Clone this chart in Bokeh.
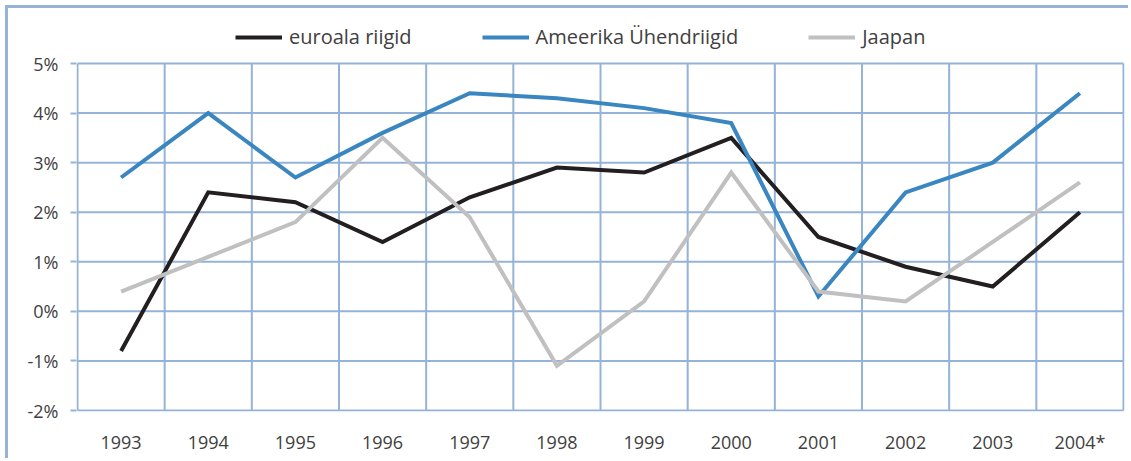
from bokeh.plotting import figure
from bokeh.layouts import column
from bokeh.models import FixedTicker, PrintfTickFormatter, Legend, LegendItem, Range1d
from bokeh.embed import file_html
from bokeh.resources import INLINE

years = ["1993", "1994", "1995", "1996", "1997", "1998", "1999", "2000", "2001", "2002", "2003", "2004*"]
euro = [-0.8, 2.4, 2.2, 1.4, 2.3, 2.9, 2.8, 3.5, 1.5, 0.9, 0.5, 2.0]
usa = [2.7, 4.0, 2.7, 3.6, 4.4, 4.3, 4.1, 3.8, 0.3, 2.4, 3.0, 4.4]
japan = [0.4, 1.1, 1.8, 3.5, 1.9, -1.1, 0.2, 2.8, 0.4, 0.2, 1.4, 2.6]
names = ["euroala riigid", "Ameerika Ühendriigid", "Jaapan"]
colors = ["#231f20", "#3a86c0", "#c0c0c0"]
yticks = [-2, -1, 0, 1, 2, 3, 4, 5]

GRID = "#95b3d7"
FONT = "Open Sans"
TXT = "#404040"

n = len(years)
xs = list(range(n))
ymin, ymax = yticks[0], yticks[-1]
px_per_unit = 347 / (ymax - ymin)
top_room = 45 / px_per_unit      # space above the plot box for the legend
pad_y = 1 / px_per_unit
pad_x = 1 / 87.3

p = figure(width=1120, height=450, output_backend="svg", toolbar_location=None,
           x_range=Range1d(-0.5 - pad_x, n - 0.5 + pad_x),
           y_range=Range1d(ymin - pad_y, ymax + top_room),
           min_border_left=68, min_border_right=4, min_border_top=10, min_border_bottom=47)

p.outline_line_color = None
p.grid.visible = False
p.background_fill_color = "white"
p.border_fill_color = "white"

# grid / plot box
bounds = [i - 0.5 for i in range(n + 1)]
p.segment(x0=-0.5, y0=yticks, x1=n - 0.5, y1=yticks, line_color=GRID, line_width=2)
p.segment(x0=bounds, y0=ymin, x1=bounds, y1=ymax, line_color=GRID, line_width=2)

p.xaxis.ticker = FixedTicker(ticks=xs)
p.xaxis.major_label_overrides = {i: y for i, y in enumerate(years)}
p.xaxis.major_tick_line_color = None
p.xaxis.minor_tick_line_color = None
p.xaxis.axis_line_color = None
p.xaxis.major_label_standoff = 12

p.yaxis.ticker = FixedTicker(ticks=yticks)
p.yaxis.formatter = PrintfTickFormatter(format="%d%%")
p.yaxis.major_tick_in = 0
p.yaxis.major_tick_out = 6
p.yaxis.major_tick_line_color = GRID
p.yaxis.major_tick_line_width = 2
p.yaxis.minor_tick_line_color = None
p.yaxis.axis_line_color = None
p.yaxis.major_label_standoff = 12

for ax in (p.xaxis, p.yaxis):
    ax.major_label_text_font = FONT
    ax.major_label_text_font_size = "18px"
    ax.major_label_text_color = TXT

items = []
for name, data, c in zip(names, [euro, usa, japan], colors):
    r = p.line(xs, data, line_color=c, line_width=4, line_join="miter")
    items.append(LegendItem(label=name, renderers=[r]))

leg = Legend(items=items, orientation="horizontal", location=(159, 361),
             glyph_width=47, glyph_height=20, label_standoff=7, spacing=70,
             padding=4, margin=0, border_line_color=None, background_fill_alpha=0,
             label_text_font=FONT, label_text_font_size="20px", label_text_color=TXT)
p.add_layout(leg)

lay = column(p, styles={"border-left": "3px solid " + GRID, "border-top": "3px solid " + GRID,
                        "margin-left": "5px", "margin-top": "5px"})

open("out.html", "w").write(file_html(lay, INLINE))
